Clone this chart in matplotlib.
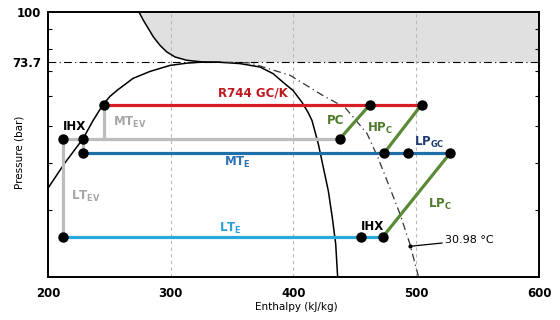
import numpy as np
import matplotlib as mpl
mpl.use('Agg')
import matplotlib.pyplot as plt

mpl.rcParams['font.family'] = 'DejaVu Sans'
mpl.rcParams['mathtext.fontset'] = 'dejavusans'

# saturation dome
dome_h = [200.0, 213.8, 228.5, 236.7, 244.8, 250.5, 256.2, 269.2, 283.1, 299.4, 313.2, 323.8,
          340.0, 356.4, 372.7, 383.3, 391.4, 399.6, 406.9, 411.8, 415.1, 420.2,
          424.3, 428.4, 431.6, 434.4, 436.0]
dome_p = [34.3, 40.0, 46.3, 51.7, 57.0, 59.9, 62.1, 66.8, 69.7, 72.3, 73.3, 73.7,
          73.7, 73.1, 71.6, 68.8, 65.3, 62.1, 57.8, 54.4, 51.7, 44.9,
          38.9, 33.7, 28.7, 24.4, 19.9]

# supercritical boundary (critical isotherm above Pc)
sc_h = [274.1, 277.6, 281.7, 285.8, 291.2, 296.7, 303.5, 313.0, 326.5, 340.1]
sc_p = [100.0, 95.2, 90.5, 86.0, 81.7, 78.5, 76.1, 74.6, 73.8, 73.7]

# critical isotherm 30.98 C below Pc
iso_h = [345.0, 364.6, 397.1, 424.0, 442.0, 459.9, 468.8, 478.6, 486.8, 494.9, 502.2]
iso_p = [73.7, 73.4, 68.1, 60.2, 56.0, 47.8, 41.3, 34.3, 29.3, 24.4, 19.8]

p_crit = 73.7
p_gc = 57.0
p_mtev = 46.2
p_mt = 42.4
p_lt = 25.5

gc_h = [245.6, 462.3, 504.4]
mtev_h = [212.5, 228.8, 437.5]
mt_h = [228.8, 473.7, 493.5, 527.5]
lt_h = [212.5, 455.0, 472.7]

pc_h, pc_p = [437.5, 462.3], [p_mtev, p_gc]
hpc_h, hpc_p = [473.7, 504.4], [p_mt, p_gc]
lpc_h, lpc_p = [472.7, 527.5], [p_lt, p_mt]

red = '#d81e25'
gray = '#bdbdbd'
blue = '#1f6fa8'
lblue = '#2aa7dd'
green = '#5a8a35'

fig = plt.figure(figsize=(5.6, 3.2), dpi=100)
ax = fig.add_axes([0.0857, 0.1344, 0.8768, 0.8281])
ax.set_yscale('log')
ax.set_xlim(200, 600)
ax.set_ylim(20, 100)

# shaded supercritical zone
poly_h = sc_h + [600, 600]
poly_p = sc_p + [p_crit, 100]
ax.fill(poly_h, poly_p, color='#e0e0e0', zorder=0, lw=0)
ax.plot(sc_h, sc_p, color='black', lw=1.1, zorder=2)

for x in [300, 400, 500]:
    ax.axvline(x, color='#b8b8b8', lw=0.8, ls=(0, (3, 3)), zorder=1)

ax.axhline(p_crit, color='black', lw=0.8, ls=(0, (7, 3, 1, 3)), zorder=2)
ax.plot(dome_h, dome_p, color='black', lw=1.1, zorder=2)
ax.plot(iso_h, iso_p, color='#333333', lw=0.9, ls=(0, (6, 3, 1, 3)), zorder=2)

lw = 2.3
ax.plot([mtev_h[0], mtev_h[-1]], [p_mtev, p_mtev], color=gray, lw=lw, zorder=3)
ax.plot([gc_h[0], gc_h[0]], [p_mtev, p_gc], color=gray, lw=lw, zorder=3)
ax.plot([mtev_h[0], mtev_h[0]], [p_lt, p_mtev], color=gray, lw=lw, zorder=3)
ax.plot([mt_h[0], mt_h[0]], [p_mt, p_mtev], color=gray, lw=lw, zorder=3)
ax.plot([gc_h[0], gc_h[-1]], [p_gc, p_gc], color=red, lw=lw, zorder=3)
ax.plot([mt_h[0], mt_h[-1]], [p_mt, p_mt], color=blue, lw=lw, zorder=3)
ax.plot([lt_h[0], lt_h[-1]], [p_lt, p_lt], color=lblue, lw=lw, zorder=3)
for hh, pp in [(pc_h, pc_p), (hpc_h, hpc_p), (lpc_h, lpc_p)]:
    ax.plot(hh, pp, color=green, lw=lw, zorder=3)

dots_h = gc_h + mtev_h + mt_h + lt_h
dots_p = [p_gc] * 3 + [p_mtev] * 3 + [p_mt] * 4 + [p_lt] * 3
ax.plot(dots_h, dots_p, 'o', color='black', ms=6.5, zorder=5)

fs = 8.5
def lab(x, y, s, c):
    ax.text(x, y, s, color=c, fontsize=fs, fontweight='bold', ha='center', va='center', zorder=6)

lab(367, 61.0, 'R744 GC/K', '#c0171f')
lab(434.6, 51.7, 'PC', '#4e7a2a')
lab(470.5, 49.2, r'HP$_\mathbf{C}$', '#4e7a2a')
lab(510.4, 45.2, r'LP$_\mathbf{GC}$', '#1f3a70')
lab(519.3, 31.1, r'LP$_\mathbf{C}$', '#4e7a2a')
lab(354, 40.0, r'MT$_\mathbf{E}$', '#2a72b5')
lab(348.3, 26.9, r'LT$_\mathbf{E}$', '#2aa0d8')
lab(464, 27.2, 'IHX', 'black')
lab(221.2, 49.8, 'IHX', 'black')
lab(266.8, 51.1, r'MT$_\mathbf{EV}$', '#a6a6a6')
lab(231, 32.7, r'LT$_\mathbf{EV}$', '#a6a6a6')

ax.plot([494.9], [24.1], 'o', color='black', ms=2, zorder=6)
ax.annotate('30.98 °C', xy=(494.9, 24.1), xytext=(523.4, 25.0), fontsize=8,
            va='center', arrowprops=dict(arrowstyle='-', color='black', lw=0.9,
                                         shrinkA=0, shrinkB=0))

ax.set_xticks([200, 300, 400, 500, 600])
ax.set_xticklabels(['200', '300', '400', '500', '600'], fontsize=8.5, fontweight='bold')
ax.set_yticks([73.7, 100])
ax.set_yticklabels(['73.7', '100'], fontsize=8.5, fontweight='bold')
ax.set_yticks([30, 40, 50, 60, 70, 80, 90], minor=True)
ax.yaxis.set_minor_formatter(mpl.ticker.NullFormatter())
ax.tick_params(axis='x', length=0, pad=7)
ax.tick_params(axis='y', which='both', direction='in', right=True, length=3, width=0.8)
ax.tick_params(axis='y', which='major', length=0, pad=5)
for s in ax.spines.values():
    s.set_linewidth(1.4)

ax.set_xlabel('Enthalpy (kJ/kg)', fontsize=7.5)
ax.xaxis.set_label_coords(0.505, -0.095)
ax.set_ylabel('Pressure (bar)', fontsize=7.5)
ax.yaxis.set_label_coords(-0.048, 0.47)

fig.savefig('out.png', dpi=100)
